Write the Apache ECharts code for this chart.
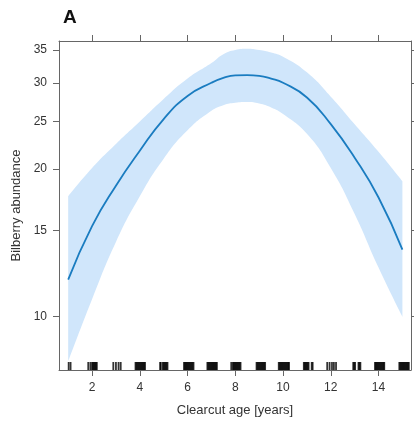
<!DOCTYPE html>
<html>
<head>
<meta charset="utf-8">
<script src="https://cdn.jsdelivr.net/npm/echarts@6/dist/echarts.min.js"></script>
<style>
html,body{margin:0;padding:0;background:#fff;}
#chart{width:414px;height:427px;}
</style>
</head>
<body>
<div id="chart"></div>
<script>
// Data
var ages = [1, 2, 3, 4, 5, 6, 7, 7.5, 8, 8.5, 9, 9.5, 10, 11, 12, 13, 14, 15];
var fitted = [11.9, 15.3, 18.5, 21.8, 25.3, 28.2, 30.0, 30.7, 31.07, 31.1, 31.0, 30.6, 30.0, 28.0, 24.7, 21.1, 17.5, 13.7];
var upperCI = [17.6, 20.1, 22.5, 25.0, 27.8, 30.6, 32.9, 34.3, 35.0, 35.2, 35.0, 34.6, 33.9, 31.5, 28.1, 24.7, 21.7, 18.9];
var lowerCI = [8.1, 10.85, 14.2, 17.6, 21.0, 24.0, 26.3, 27.0, 27.3, 27.4, 27.2, 26.7, 25.9, 23.6, 20.1, 16.2, 12.6, 10.0];
var xTicks = [2, 4, 6, 8, 10, 12, 14];
var yTicks = [10, 15, 20, 25, 30, 35];
var rugAges = [
  1.02, 1.10,
  1.84, 1.93, 2.00, 2.04, 2.08, 2.12, 2.16, 2.20,
  2.89, 3.00, 3.11, 3.20,
  3.82, 3.86, 3.90, 3.94, 3.98, 4.02, 4.06, 4.10, 4.14, 4.18, 4.22,
  4.85, 4.88, 4.96, 5.00, 5.04, 5.08, 5.12, 5.16,
  5.85, 5.89, 5.93, 5.97, 6.01, 6.05, 6.09, 6.13, 6.17, 6.21, 6.25,
  6.83, 6.87, 6.91, 6.95, 6.99, 7.03, 7.07, 7.11, 7.15, 7.19, 7.23,
  7.83, 7.90, 7.94, 7.98, 8.02, 8.06, 8.10, 8.14, 8.18, 8.22,
  8.89, 8.93, 8.97, 9.01, 9.05, 9.09, 9.13, 9.17, 9.21, 9.25,
  9.82, 9.86, 9.90, 9.94, 9.98, 10.02, 10.06, 10.10, 10.14, 10.18, 10.22, 10.25,
  10.87, 10.91, 10.95, 10.99, 11.03, 11.07, 11.20, 11.24,
  11.85, 11.95, 12.05, 12.13, 12.22,
  12.94, 12.98, 13.02, 13.16, 13.20, 13.24,
  13.85, 13.89, 13.93, 13.97, 14.01, 14.05, 14.09, 14.13, 14.17, 14.21, 14.24,
  14.87, 14.91, 14.95, 14.99, 15.03, 15.07, 15.11, 15.15, 15.19, 15.23, 15.27
];

var X_MIN = 0.615, X_MAX = 15.36;
var Y_MIN = Math.log(7.785), Y_MAX = Math.log(36.5);
var SMOOTH = 0.5;

var font = 'Liberation Sans, Arial, sans-serif';
var axisCol = '#666';
var labelCol = '#333';

// rows are [value(ln), age] so the stacked dimension is the y value
var lowerData = ages.map(function (a, i) { return [Math.log(lowerCI[i]), a]; });
var bandData = ages.map(function (a, i) { return [Math.log(upperCI[i]) - Math.log(lowerCI[i]), a]; });
var fitData = ages.map(function (a, i) { return [a, Math.log(fitted[i])]; });
var rugData = rugAges.map(function (a) { return [a, Y_MIN]; });
var yTickLn = yTicks.map(function (v) { return Math.log(v); });

function xAxisCfg(pos, labels) {
  return {
    type: 'value', min: X_MIN, max: X_MAX, position: pos, z: 10,
    name: labels ? 'Clearcut age [years]' : '', nameLocation: 'middle', nameGap: 34,
    nameTextStyle: { fontFamily: font, fontSize: 13, color: labelCol },
    axisLine: { show: true, onZero: false, lineStyle: { color: axisCol, width: 1 } },
    axisTick: { show: true, inside: false, length: 6, customValues: xTicks, lineStyle: { color: axisCol } },
    axisLabel: { show: labels, margin: 12, customValues: xTicks, fontFamily: font, fontSize: 12, color: labelCol },
    splitLine: { show: false }
  };
}
function yAxisCfg(pos, labels) {
  return {
    type: 'value', min: Y_MIN, max: Y_MAX, position: pos, z: 10,
    name: labels ? 'Bilberry abundance' : '', nameLocation: 'middle', nameGap: 35,
    nameTextStyle: { fontFamily: font, fontSize: 13, color: labelCol },
    axisLine: { show: true, onZero: false, lineStyle: { color: axisCol, width: 1 } },
    axisTick: { show: true, inside: false, length: 6, customValues: yTickLn, lineStyle: { color: axisCol } },
    axisLabel: {
      show: labels, margin: 12, customValues: yTickLn, fontFamily: font, fontSize: 12, color: labelCol,
      formatter: function (v) { return String(Math.round(Math.exp(v))); }
    },
    splitLine: { show: false }
  };
}

var chart = echarts.init(document.getElementById('chart'), null, { renderer: 'canvas' });
chart.setOption({
  animation: false,
  backgroundColor: '#fff',
  title: {
    text: 'A', left: 58, top: 3,
    textStyle: { fontFamily: font, fontSize: 19, fontWeight: 'bold', color: '#111' }
  },
  grid: { left: 59, right: 3, top: 41, bottom: 57, containLabel: false },
  xAxis: [xAxisCfg('bottom', true), xAxisCfg('top', false)],
  yAxis: [yAxisCfg('left', true), yAxisCfg('right', false)],
  series: [{
    type: 'line', name: 'lower', data: lowerData, stack: 'ci',
    encode: { x: 1, y: 0 },
    smooth: SMOOTH, showSymbol: false, symbol: 'none',
    lineStyle: { width: 0, opacity: 0 }, silent: true
  }, {
    type: 'line', name: 'band', data: bandData, stack: 'ci',
    encode: { x: 1, y: 0 },
    smooth: SMOOTH, showSymbol: false, symbol: 'none',
    lineStyle: { width: 0, opacity: 0 },
    areaStyle: { color: '#d0e6fb', opacity: 1 }, silent: true
  }, {
    type: 'line', name: 'fit', data: fitData, z: 4,
    smooth: SMOOTH, showSymbol: false, symbol: 'none',
    lineStyle: { color: '#1a7cc0', width: 1.8 }, silent: true
  }, {
    type: 'scatter', name: 'rug', data: rugData, z: 5,
    symbol: 'rect', symbolSize: [1.8, 8], symbolOffset: [0, -4],
    itemStyle: { color: '#000' }, silent: true, clip: false
  }]
});
</script>
</body>
</html>
